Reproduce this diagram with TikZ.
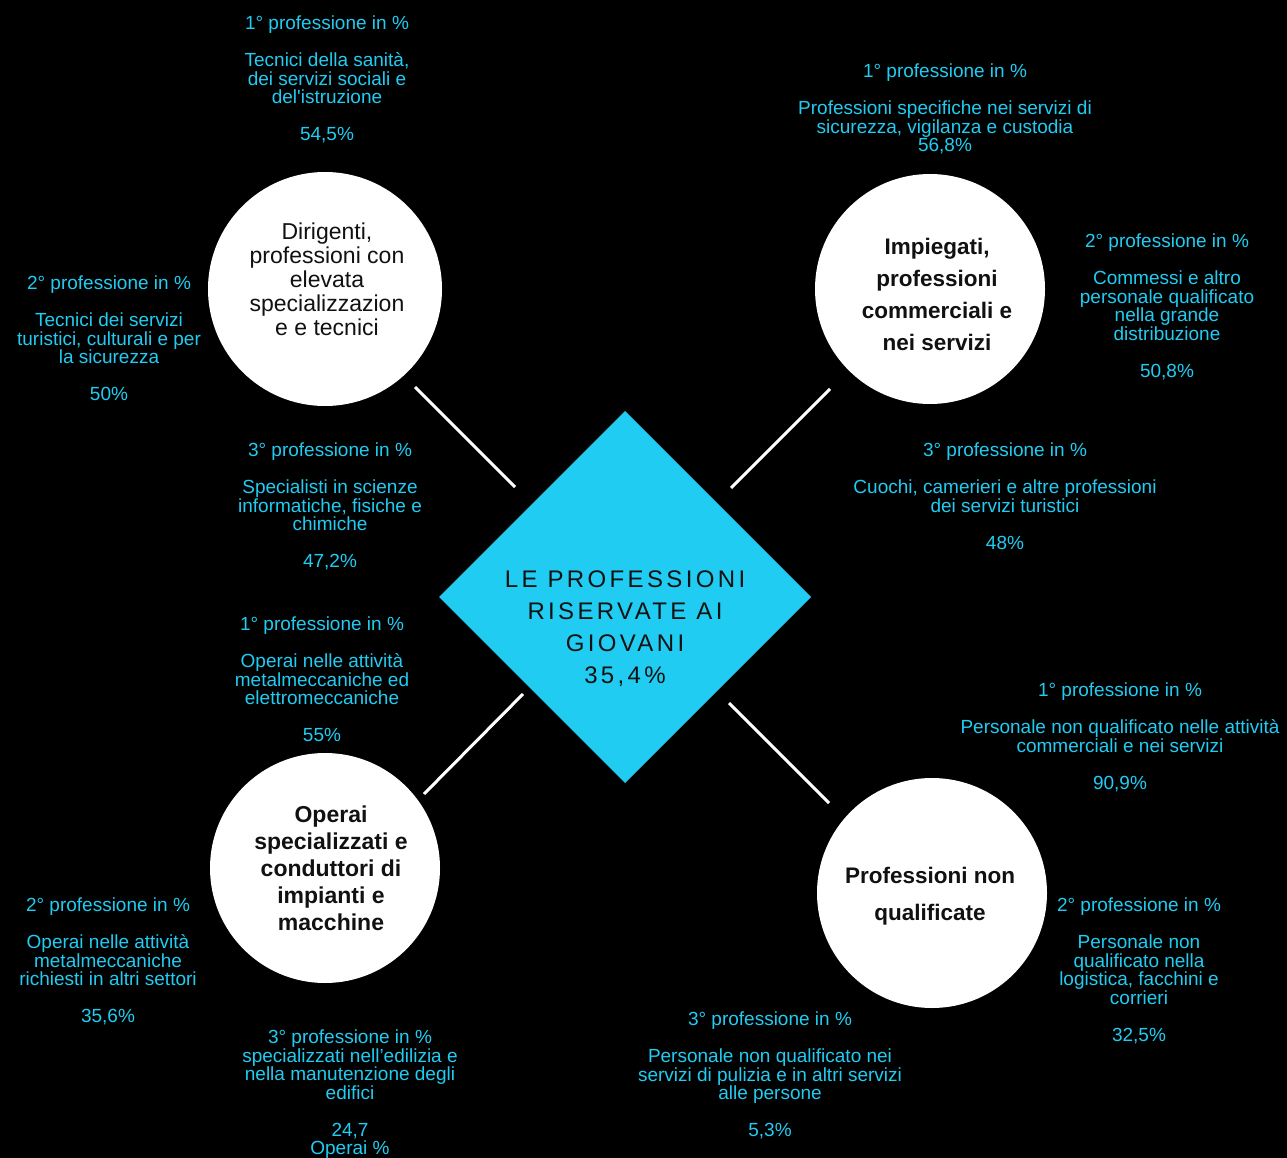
\documentclass[tikz,border=0pt]{standalone}
\usepackage{fontspec}
\setmainfont{Liberation Sans}
\newfontfamily\diafont[LetterSpace=14]{Liberation Sans}
\usetikzlibrary{shapes.geometric}
\definecolor{cy}{RGB}{32,204,242}
\definecolor{ink}{RGB}{17,17,17}
\tikzset{
  lbl/.style={text=cy, align=center, inner sep=0pt, anchor=north, font=\fontsize{19}{18.5}\selectfont},
  disc/.style={circle, fill=white, inner sep=0pt, outer sep=0pt},
  conn/.style={draw=white, line width=3pt},
  ctext/.style={text=ink, align=center, inner sep=0pt},
}
\begin{document}
\begin{tikzpicture}[x=1pt,y=-1pt]
\fill[black] (0,0) rectangle (1287,1158);
\useasboundingbox (0,0) rectangle (1287,1158);

% central diamond
\node[diamond, aspect=1, fill=cy, minimum width=372pt, minimum height=372pt, inner sep=0pt, outer sep=0pt] (d) at (625,597) {};
\node[text=ink, align=center, inner sep=0pt, font=\diafont\fontsize{24}{32}\selectfont] (dt) at (625,629) {LE PROFESSIONI\\RISERVATE AI\\GIOVANI\\35,4\%};

% circles
\node[disc, minimum size=234pt] (c1) at (325,289) {};
\node[disc, minimum size=230pt] (c2) at (930,289) {};
\node[disc, minimum size=230pt] (c3) at (325,868) {};
\node[disc, minimum size=230pt] (c4) at (932,893) {};

\node[ctext, font=\fontsize{23}{24}\selectfont] (t1) at (327,279) {Dirigenti,\\professioni con\\elevata\\specializzazion\\e e tecnici};
\node[ctext, font=\bfseries\fontsize{22.5}{32}\selectfont] (t2) at (937,294) {Impiegati,\\professioni\\commerciali e\\nei servizi};
\node[ctext, font=\bfseries\fontsize{23}{27}\selectfont] (t3) at (331,868) {Operai\\specializzati e\\conduttori di\\impianti e\\macchine};
\node[ctext, font=\bfseries\fontsize{22.5}{37}\selectfont] (t4) at (930,896) {Professioni non\\qualificate};

% connectors
\coordinate (a1) at (415,387); \coordinate (a2) at (515,487);
\coordinate (b1) at (830,389); \coordinate (b2) at (731,488);
\coordinate (e1) at (523,694); \coordinate (e2) at (424,794);
\coordinate (f1) at (729,703); \coordinate (f2) at (829,803);
\draw[conn] (a1) -- (a2);
\draw[conn] (b1) -- (b2);
\draw[conn] (e1) -- (e2);
\draw[conn] (f1) -- (f2);

% labels
\node[lbl] (l1) at (327,16) {1° professione in \%\\[18.5pt]Tecnici della sanità,\\dei servizi sociali e\\del\textquotesingle istruzione\\[18.5pt]54,5\%};
\node[lbl] (l2) at (109,276) {2° professione in \%\\[18.5pt]Tecnici dei servizi\\turistici, culturali e per\\la sicurezza\\[18.5pt]50\%};
\node[lbl] (l3) at (330,443) {3° professione in \%\\[18.5pt]Specialisti in scienze\\informatiche, fisiche e\\chimiche\\[18.5pt]47,2\%};
\node[lbl] (l4) at (945,64) {1° professione in \%\\[18.5pt]Professioni specifiche nei servizi di\\sicurezza, vigilanza e custodia\\56,8\%};
\node[lbl] (l5) at (1167,234) {2° professione in \%\\[18.5pt]Commessi e altro\\personale qualificato\\nella grande\\distribuzione\\[18.5pt]50,8\%};
\node[lbl] (l6) at (1005,443) {3° professione in \%\\[18.5pt]Cuochi, camerieri e altre professioni\\dei servizi turistici\\[18.5pt]48\%};
\node[lbl] (l7) at (322,617) {1° professione in \%\\[18.5pt]Operai nelle attività\\metalmeccaniche ed\\elettromeccaniche\\[18.5pt]55\%};
\node[lbl] (l8) at (108,898) {2° professione in \%\\[18.5pt]Operai nelle attività\\metalmeccaniche\\richiesti in altri settori\\[18.5pt]35,6\%};
\node[lbl] (l9) at (350,1030) {3° professione in \%\\specializzati nell’edilizia e\\nella manutenzione degli\\edifici\\[18.5pt]24,7\\Operai \%};
\node[lbl] (l10) at (1120,683) {1° professione in \%\\[18.5pt]Personale non qualificato nelle attività\\commerciali e nei servizi\\[18.5pt]90,9\%};
\node[lbl] (l11) at (1139,898) {2° professione in \%\\[18.5pt]Personale non\\qualificato nella\\logistica, facchini e\\corrieri\\[18.5pt]32,5\%};
\node[lbl] (l12) at (770,1012) {3° professione in \%\\[18.5pt]Personale non qualificato nei\\servizi di pulizia e in altri servizi\\alle persone\\[18.5pt]5,3\%};
\end{tikzpicture}
\end{document}
